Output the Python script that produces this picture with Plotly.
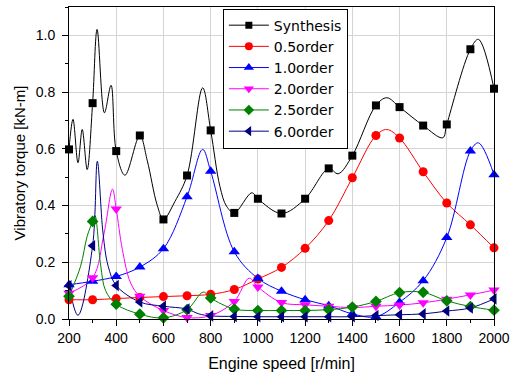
import plotly.graph_objects as go

# ---------------- data ----------------
speed = [200, 300, 400, 500, 600, 700, 800, 900, 1000, 1100, 1200, 1300,
         1400, 1500, 1600, 1700, 1800, 1900, 2000]

synthesis = [0.598, 0.761, 0.592, 0.647, 0.351, 0.506, 0.665, 0.374, 0.424, 0.372,
             0.424, 0.531, 0.576, 0.753, 0.747, 0.682, 0.686, 0.951, 0.812]
order_05 = [0.068, 0.068, 0.072, 0.076, 0.079, 0.082, 0.087, 0.104, 0.141, 0.182,
            0.249, 0.347, 0.498, 0.647, 0.638, 0.519, 0.409, 0.332, 0.251]
order_10 = [0.121, 0.133, 0.150, 0.183, 0.248, 0.431, 0.521, 0.237, 0.143, 0.098,
            0.068, 0.047, 0.018, 0.008, 0.059, 0.135, 0.287, 0.592, 0.509]
order_20 = [0.091, 0.145, 0.388, 0.080, 0.030, 0.005, 0.012, 0.062, 0.113, 0.058,
            0.050, 0.045, 0.040, 0.045, 0.049, 0.057, 0.070, 0.085, 0.102]
order_25 = [0.080, 0.344, 0.052, 0.017, 0.004, 0.033, 0.074, 0.035, 0.030, 0.030,
            0.030, 0.033, 0.042, 0.062, 0.093, 0.094, 0.064, 0.044, 0.031]
order_60 = [0.117, 0.258, 0.118, 0.060, 0.045, 0.035, 0.011, 0.009, 0.008, 0.008,
            0.008, 0.008, 0.008, 0.012, 0.015, 0.018, 0.028, 0.039, 0.071]

# extra points of the continuous curves between the markers (peaks / dips)
synthesis_extra_x = [217, 238, 256, 277, 319, 350, 378, 437, 531, 574, 649, 766,
                     839, 867, 974, 1340, 1546, 1783, 1934]
synthesis_extra_y = [0.704, 0.551, 0.668, 0.527, 1.021, 0.727, 0.824, 0.507, 0.560,
                     0.400, 0.415, 0.815, 0.468, 0.398, 0.445, 0.512, 0.780, 0.639, 0.986]
order_05_extra_x = [1546]
order_05_extra_y = [0.668]
order_10_extra_x = [766, 1934]
order_10_extra_y = [0.598, 0.621]
order_20_extra_x = [348, 384, 426, 461, 963]
order_20_extra_y = [0.300, 0.458, 0.245, 0.127, 0.144]
order_25_extra_x = [249, 277, 310, 334, 355, 769]
order_25_extra_y = [0.186, 0.292, 0.365, 0.190, 0.100, 0.095]
order_60_extra_x = [238, 320, 344, 366, 750]
order_60_extra_y = [0.013, 0.556, 0.303, 0.186, 0.018]

names = ["Synthesis", "0.5order", "1.0order", "2.0order", "2.5order", "6.0order"]

x_ticks = [200, 400, 600, 800, 1000, 1200, 1400, 1600, 1800, 2000]
y_ticks = [0.0, 0.2, 0.4, 0.6, 0.8, 1.0]

# ---------------- styling ----------------
colors = ["#000000", "#ff0000", "#0000ff", "#ff00ff", "#008000", "#000080"]
symbols = ["square", "circle", "triangle-up", "triangle-down", "diamond", "triangle-left"]
msizes = [8, 9, 10, 10, 9, 10]

series = [
    (synthesis, synthesis_extra_x, synthesis_extra_y),
    (order_05, order_05_extra_x, order_05_extra_y),
    (order_10, order_10_extra_x, order_10_extra_y),
    (order_20, order_20_extra_x, order_20_extra_y),
    (order_25, order_25_extra_x, order_25_extra_y),
    (order_60, order_60_extra_x, order_60_extra_y),
]

FONT = "Liberation Sans, Arial, sans-serif"
LEGEND_FONT = "DejaVu Sans, Liberation Sans, sans-serif"

fig = go.Figure()
for i, (vals, ex, ey) in enumerate(series):
    pts = sorted(list(zip(speed, vals)) + list(zip(ex, ey)))
    lx = [p[0] for p in pts]
    ly = [p[1] for p in pts]
    fig.add_trace(go.Scatter(
        x=lx, y=ly, mode="lines", line=dict(color=colors[i], width=1, shape="spline", smoothing=1.0),
        showlegend=False, hoverinfo="skip", legendgroup=names[i]))
for i, (vals, ex, ey) in enumerate(series):
    fig.add_trace(go.Scatter(
        x=speed, y=vals, mode="markers", cliponaxis=False,
        marker=dict(symbol=symbols[i], size=msizes[i], color=colors[i], line=dict(width=0)),
        showlegend=False, legendgroup=names[i], name=names[i]))
for i in range(len(names)):
    fig.add_trace(go.Scatter(
        x=[None], y=[None], mode="lines+markers", name=names[i], legendgroup=names[i],
        line=dict(color=colors[i], width=1),
        marker=dict(symbol=symbols[i], size=msizes[i] - 1, color=colors[i], line=dict(width=0))))

axis_common = dict(
    showline=True, linecolor="black", linewidth=1, mirror=True,
    ticks="outside", ticklen=6, tickwidth=1, tickcolor="black",
    showgrid=True, gridcolor="#d4d4d4", gridwidth=1, zeroline=False,
    tickfont=dict(family=FONT, size=14, color="black"),
)

fig.update_layout(
    width=523, height=378,
    margin=dict(l=69, r=29, t=7, b=59),
    paper_bgcolor="white", plot_bgcolor="white",
    font=dict(family=FONT, color="black"),
    xaxis=dict(range=[200, 2000], tickvals=x_ticks,
               minor=dict(ticks="outside", ticklen=3, dtick=100, tick0=200, showgrid=False, tickcolor="black"),
               title=dict(text="Engine speed [r/min]", font=dict(family=FONT, size=16), standoff=13),
               **axis_common),
    yaxis=dict(range=[0, 1.1], tickvals=y_ticks, tickformat=".1f", ticklabelstandoff=4,
               minor=dict(ticks="outside", ticklen=3, dtick=0.1, tick0=0, showgrid=False, tickcolor="black"),
               title=dict(text="Vibratory torque [kN-m]", font=dict(family=FONT, size=15), standoff=6),
               **axis_common),
    legend=dict(x=0.362, y=0.995, xanchor="left", yanchor="top",
                bgcolor="white", bordercolor="black", borderwidth=1, itemwidth=40,
                font=dict(family=LEGEND_FONT, size=14, color="black"), tracegroupgap=0),
)

fig.write_html("out.html", config={"displayModeBar": False},
               post_script="document.body.style.margin='0';document.body.style.padding='0';")
